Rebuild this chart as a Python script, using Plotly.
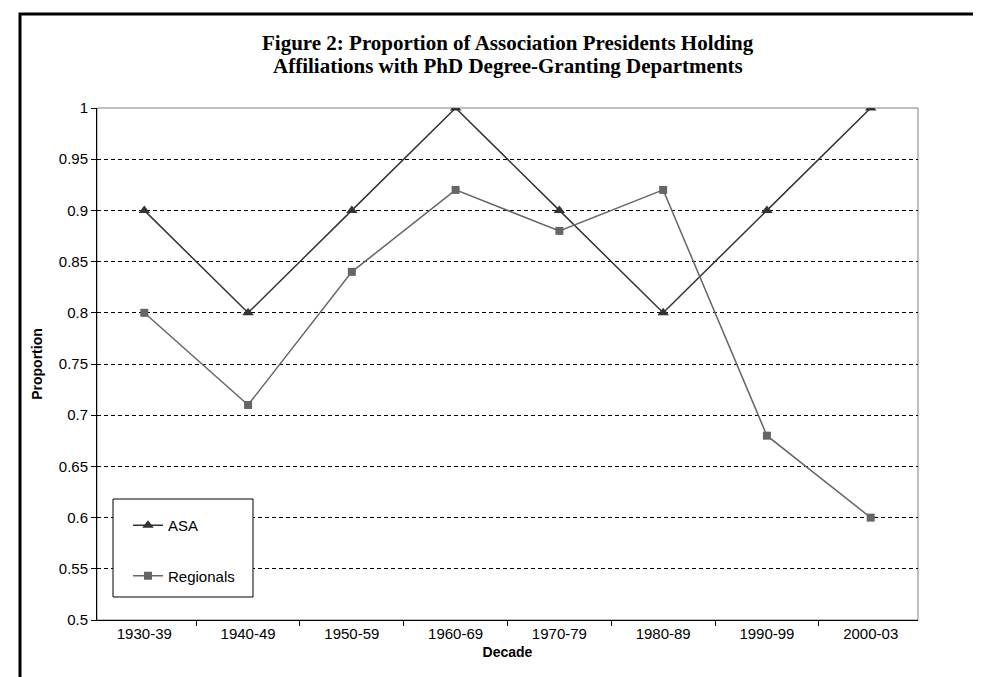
import plotly.graph_objects as go

decades = ["1930-39", "1940-49", "1950-59", "1960-69", "1970-79", "1980-89", "1990-99", "2000-03"]
asa = [0.9, 0.8, 0.9, 1.0, 0.9, 0.8, 0.9, 1.0]
regionals = [0.8, 0.71, 0.84, 0.92, 0.88, 0.92, 0.68, 0.6]
grid_vals = [0.55, 0.6, 0.65, 0.7, 0.75, 0.8, 0.85, 0.9, 0.95]
y_ticks = [0.5, 0.55, 0.6, 0.65, 0.7, 0.75, 0.8, 0.85, 0.9, 0.95, 1.0]
y_labels = ["0.5", "0.55", "0.6", "0.65", "0.7", "0.75", "0.8", "0.85", "0.9", "0.95", "1"]

OFF = 8  # default body margin of the html page
W, H = 981 - OFF, 677 - OFF
# plot area in screen pixels
L, R, T, B = 97, 918, 108, 620


def px(x):
    return (x - L) / (R - L)


def py(y):
    return (B - y) / (B - T)


SANS = "Liberation Sans, Arial, sans-serif"
SERIF = "Liberation Serif, Times New Roman, serif"

fig = go.Figure()
fig.add_trace(go.Scatter(
    x=decades, y=asa, name="ASA", mode="lines+markers", legendgroup="a",
    line=dict(color="#333333", width=1.5),
    marker=dict(symbol="triangle-up", size=10, color="#333333"),
))
fig.add_trace(go.Scatter(
    x=decades, y=regionals, name="Regionals", mode="lines+markers", legendgroup="b",
    line=dict(color="#666666", width=1.5),
    marker=dict(symbol="square", size=8, color="#666666"),
))
# invisible trace on overlay axis for dashed gridlines
fig.add_trace(go.Scatter(x=decades, y=asa, yaxis="y2", mode="none", showlegend=False, hoverinfo="skip"))

fig.update_layout(
    width=W, height=H,
    margin=dict(l=L - OFF, r=W - (R - OFF), t=T - OFF, b=H - (B - OFF)),
    paper_bgcolor="white", plot_bgcolor="white",
    font=dict(family=SANS, size=15, color="black"),
    showlegend=True,
    legend=dict(
        x=px(128), y=py(509), xanchor="left", yanchor="top",
        bgcolor="rgba(0,0,0,0)", borderwidth=0,
        tracegroupgap=28, itemwidth=30,
        font=dict(size=15, family=SANS),
    ),
    xaxis=dict(
        type="category", tickson="boundaries", ticks="outside", ticklen=5,
        tickcolor="black", showline=True, linecolor="black", linewidth=1,
        showgrid=False, zeroline=False,
        title=dict(text="<b>Decade</b>", standoff=6, font=dict(size=14)),
        tickfont=dict(size=15),
    ),
    yaxis=dict(
        range=[0.5, 1.0], tickvals=y_ticks, ticktext=y_labels,
        ticks="outside", ticklen=5, tickcolor="black",
        showline=True, linecolor="black", linewidth=1,
        showgrid=False, zeroline=False,
        title=dict(text="<b>Proportion</b>", standoff=12, font=dict(size=14)),
        tickfont=dict(size=15),
    ),
    yaxis2=dict(
        overlaying="y", range=[0.5, 1.0], tickvals=grid_vals,
        showticklabels=False, showgrid=True, gridcolor="black", gridwidth=1,
        griddash="4px,3px", zeroline=False, showline=False,
    ),
    shapes=[
        dict(type="rect", xref="paper", yref="paper", x0=0, x1=1, y0=0, y1=1,
             line=dict(color="#808080", width=1), layer="below"),
        dict(type="rect", xref="paper", yref="paper",
             x0=px(113), x1=px(253), y0=py(597), y1=py(499),
             line=dict(color="black", width=1), fillcolor="white", layer="above"),
        dict(type="rect", xref="paper", yref="paper",
             x0=px(20), x1=px(975), y0=py(700), y1=py(14),
             line=dict(color="black", width=3), layer="above"),
    ],
    annotations=[
        dict(text="<b>Figure 2: Proportion of Association Presidents Holding</b>",
             xref="paper", yref="paper", x=0.5, y=py(43), xanchor="center", yanchor="middle",
             showarrow=False, font=dict(family=SERIF, size=21)),
        dict(text="<b>Affiliations with PhD Degree-Granting Departments</b>",
             xref="paper", yref="paper", x=0.5, y=py(66), xanchor="center", yanchor="middle",
             showarrow=False, font=dict(family=SERIF, size=21)),
    ],
)

fig.write_html("out.html")
